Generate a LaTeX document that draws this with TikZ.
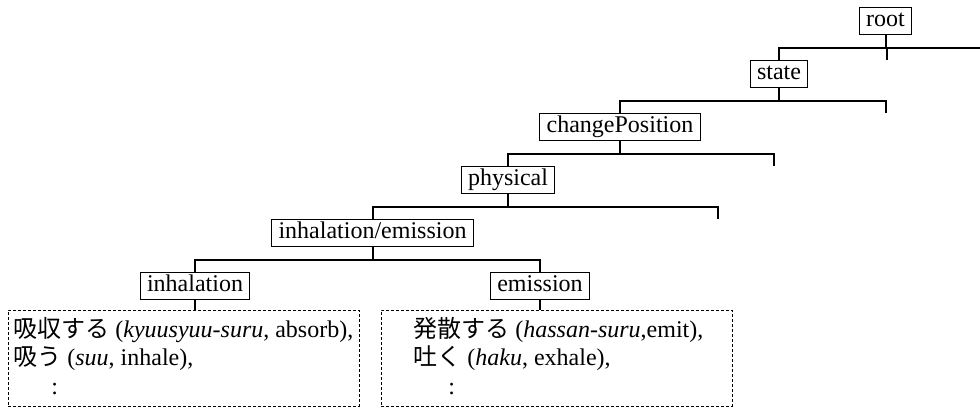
\documentclass[tikz,border=0pt]{standalone}
\usepackage{fontspec}
\setmainfont{Liberation Serif}
\newfontfamily\cjk{Noto Sans CJK JP}
\begin{document}
\begin{tikzpicture}[x=0.5pt,y=-0.5pt,
  cat/.style={draw,line width=0.5pt,inner xsep=3.5pt,inner ysep=0pt,
    text height=9pt,text depth=3pt,minimum height=13.5pt},
  tree/.style={line width=1pt},
  leafbox/.style={draw,line width=0.5pt,dash pattern=on 1.5pt off 1pt,
    minimum width=175.5pt,minimum height=48pt,inner sep=0pt},
  words/.style={inner sep=0pt,align=left,anchor=base west}]
\useasboundingbox (0,0) rectangle (980,407);
\fontsize{12}{14.25}\selectfont
% category nodes
\node[cat] (root) at (885.5,20.5) {root};
\node[cat] (state) at (779,73.5) {state};
\node[cat] (chpos) at (620,126.5) {changePosition};
\node[cat] (phys) at (508,179.5) {physical};
\node[cat] (inem) at (372.5,232.5) {inhalation/emission};
\node[cat] (inh) at (195,285.5) {inhalation};
\node[cat] (emi) at (540,285.5) {emission};
% leaf boxes
\node[leafbox] (boxA) at (183.5,358) {};
\node[leafbox] (boxB) at (556.5,358) {};
\node[words] (txtA) at (13,394) {{\cjk 吸収する} (\textit{kyuusyuu-suru}, absorb),\\{\cjk 吸う} (\textit{suu}, inhale),\\\hspace*{19pt}:};
\node[words] (txtB) at (413,394) {{\cjk 発散する} (\textit{hassan-suru},emit),\\{\cjk 吐く} (\textit{haku}, exhale),\\\hspace*{17.5pt}:};
% free ends
\coordinate (r1) at (980,48);
\coordinate (t1) at (887,60);
\coordinate (t2) at (886,113);
\coordinate (t3) at (774,166);
\coordinate (t4) at (718,219);
% connectors
\draw[tree] (root.south) -- (root.south |- r1);
\draw[tree] (state.north) -- (state.north |- r1) -- (r1);
\draw[tree] (t1 |- r1) -- (t1);
\draw[tree] (state.south) -- ++(0,13.5) coordinate (b2);
\draw[tree] (chpos.north) -- (chpos.north |- b2) -- (t2 |- b2) -- (t2);
\draw[tree] (chpos.south) -- ++(0,13.5) coordinate (b3);
\draw[tree] (phys.north) -- (phys.north |- b3) -- (t3 |- b3) -- (t3);
\draw[tree] (phys.south) -- ++(0,13.5) coordinate (b4);
\draw[tree] (inem.north) -- (inem.north |- b4) -- (t4 |- b4) -- (t4);
\draw[tree] (inem.south) -- ++(0,13.5) coordinate (b5);
\draw[tree] (inh.north) -- (inh.north |- b5) -- (emi.north |- b5) -- (emi.north);
\draw[tree] (inh.south) -- (inh.south |- boxA.north);
\draw[tree] (emi.south) -- (emi.south |- boxB.north);
\end{tikzpicture}
\end{document}
